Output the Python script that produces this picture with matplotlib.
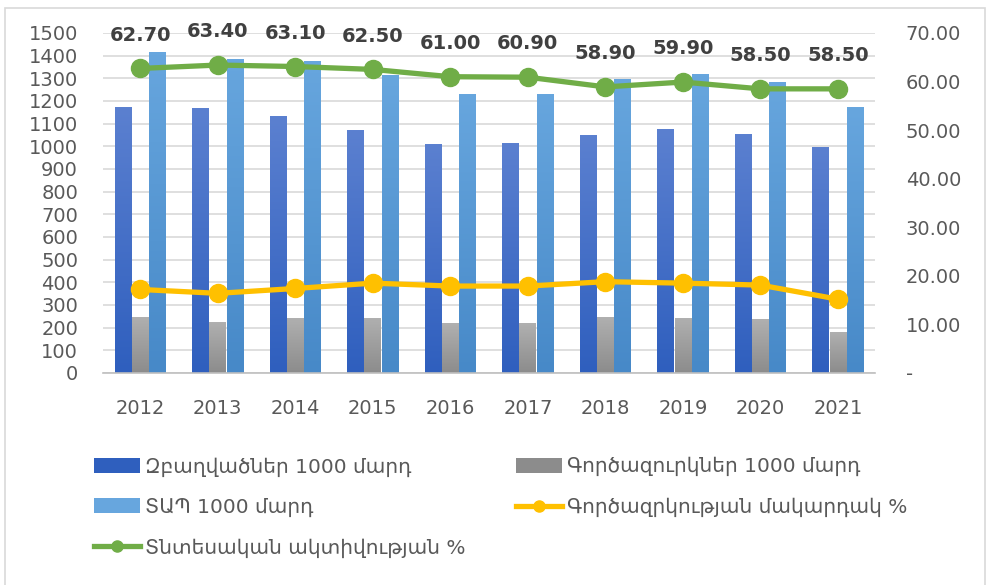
import numpy as np
import matplotlib
matplotlib.use("Agg")
import matplotlib.pyplot as plt
from matplotlib.colors import LinearSegmentedColormap
from matplotlib.patches import Rectangle, Patch
from matplotlib.lines import Line2D

plt.rcParams['font.family'] = ['DejaVu Sans']

# data
years = ['2012', '2013', '2014', '2015', '2016', '2017', '2018', '2019', '2020', '2021']
employed = [1173, 1167, 1132, 1071, 1009, 1013, 1048, 1076, 1053, 997]
unemployed = [248, 226, 244, 244, 220, 220, 248, 244, 238, 182]
labour_force = [1416, 1387, 1376, 1315, 1229, 1229, 1295, 1319, 1285, 1172]
unemp_rate = [17.2, 16.4, 17.4, 18.5, 17.9, 17.9, 18.8, 18.5, 18.1, 15.2]
activity_rate = [62.70, 63.40, 63.10, 62.50, 61.00, 60.90, 58.90, 59.90, 58.50, 58.50]

lbl_employed = 'Զբաղվածներ 1000 մարդ'
lbl_unemployed = 'Գործազուրկներ 1000 մարդ'
lbl_labour = 'ՏԱՊ 1000 մարդ'
lbl_unemp_rate = 'Գործազրկության մակարդակ %'
lbl_activity = 'Տնտեսական ակտիվության %'

c_dark = ('#5B80D0', '#2F5FBE')
c_gray = ('#B0B0B0', '#8C8C8C')
c_light = ('#67A6DE', '#4789C8')
c_yellow = '#FFC000'
c_green = '#70AD47'
txt = '#595959'

fig = plt.figure(figsize=(9.88, 5.85), dpi=100)
ax = fig.add_axes([0.1043, 0.3624, 0.7814, 0.5812])
ax2 = ax.twinx()

x = np.arange(len(years))
w = 0.215
off = 0.222


def grad_bars(axis, xs, vals, cols, z):
    bars = axis.bar(xs, vals, width=w, color=cols[1], zorder=z, linewidth=0)
    cmap = LinearSegmentedColormap.from_list('g', [cols[1], cols[0]])
    grad = np.linspace(0, 1, 100).reshape(-1, 1)
    for b in bars:
        bx, by = b.get_x(), b.get_y()
        im = axis.imshow(grad, extent=[bx, bx + b.get_width(), by, by + b.get_height()],
                         origin='lower', aspect='auto', cmap=cmap, zorder=z + 0.1)
        im.set_clip_path(b)
    return bars


grad_bars(ax, x - off, employed, c_dark, 2)
grad_bars(ax, x, unemployed, c_gray, 2)
grad_bars(ax, x + off, labour_force, c_light, 2)

ax.set_xlim(-0.48, 9.48)
ax.set_ylim(0, 1500)
ax.set_yticks(range(0, 1501, 100))
ax.grid(axis='y', color='#D9D9D9', linewidth=1.2, zorder=0)
ax.set_axisbelow(True)
ax.set_xticks(x)
ax.set_xticklabels(years)
ax.tick_params(axis='both', length=0, labelcolor=txt, labelsize=14)
ax.tick_params(axis='x', pad=19)
ax.tick_params(axis='y', pad=18)
for s in ['top', 'left', 'right']:
    ax.spines[s].set_visible(False)
ax.spines['bottom'].set_color('#BFBFBF')
ax.spines['bottom'].set_linewidth(1.2)

ax2.plot(x, unemp_rate, color=c_yellow, lw=3.8, marker='o', ms=13, zorder=5)
ax2.plot(x, activity_rate, color=c_green, lw=3.8, marker='o', ms=13, zorder=5)
for xi, v in zip(x, activity_rate):
    ax2.annotate(f'{v:.2f}', (xi, v), xytext=(0, 24), textcoords='offset points',
                 ha='center', va='center', fontsize=14, fontweight='bold', color='#404040')
ax2.set_ylim(0, 70)
ax2.set_yticks(range(0, 71, 10))
ax2.set_yticklabels(['-'] + [f'{t:.2f}' for t in range(10, 71, 10)])
ax2.tick_params(axis='y', length=0, labelcolor=txt, labelsize=14, pad=22)
for s in ax2.spines.values():
    s.set_visible(False)

# chart frame
fig.add_artist(Rectangle((5 / 988, -0.01), 980 / 988, 1 - 8 / 585 + 0.01,
                         transform=fig.transFigure, fill=False, edgecolor='#D9D9D9', lw=1.2))

h_emp = Patch(facecolor=c_dark[1])
h_unemp = Patch(facecolor=c_gray[1])
h_lab = Patch(facecolor=c_light[0])
h_rate = Line2D([], [], color=c_yellow, lw=3.8, marker='o', ms=8)
h_act = Line2D([], [], color=c_green, lw=3.8, marker='o', ms=8)

leg_kw = dict(frameon=False, labelcolor='#595959', handlelength=2.3,
              handleheight=0.8, labelspacing=1.05, handletextpad=0.25, borderaxespad=0,
              prop={'family': ['DejaVu Sans'], 'size': 14.5})
leg1 = fig.legend([h_emp, h_lab, h_act], [lbl_employed, lbl_labour, lbl_activity],
                  loc='upper left', bbox_to_anchor=(86 / 988, 1 - 449 / 585), **leg_kw)
leg2 = fig.legend([h_unemp, h_rate], [lbl_unemployed, lbl_unemp_rate],
                  loc='upper left', bbox_to_anchor=(508 / 988, 1 - 449 / 585), **leg_kw)

fig.savefig('out.png', dpi=100)
